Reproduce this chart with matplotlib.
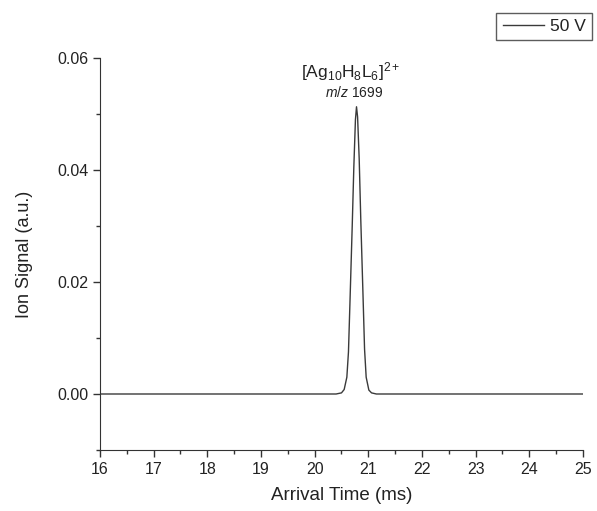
import matplotlib
matplotlib.use("Agg")
import matplotlib.pyplot as plt
from matplotlib.ticker import MultipleLocator, FormatStrFormatter

plt.rcParams["font.family"] = ["Liberation Sans", "DejaVu Sans"]
plt.rcParams["mathtext.fontset"] = "custom"
plt.rcParams["mathtext.rm"] = "Liberation Sans"
plt.rcParams["mathtext.it"] = "Liberation Sans:italic"

# arrival-time trace (ms, a.u.)
time_ms = [16.0, 20.40, 20.50, 20.55, 20.60, 20.63, 20.66, 20.70, 20.73, 20.76,
           20.78, 20.80, 20.83, 20.86, 20.90, 20.93, 20.96, 21.01, 21.06, 21.15, 25.0]
signal = [0.0, 0.0, 0.0002, 0.0008, 0.0030, 0.0075, 0.0170, 0.0300, 0.0405, 0.0490,
          0.0513, 0.0495, 0.0420, 0.0310, 0.0180, 0.0080, 0.0030, 0.0007, 0.0002, 0.0, 0.0]
series_label = "50 V"
peak_time = 20.78

fig = plt.figure(figsize=(5.97, 5.11), dpi=100)
ax = fig.add_axes([0.1675, 0.1194, 0.809, 0.767])
line, = ax.plot(time_ms, signal, color="#3a3a3a", lw=1.0)

ax.set_xlim(16, 25)
ax.set_ylim(-0.01, 0.06)
ax.xaxis.set_major_locator(MultipleLocator(1))
ax.xaxis.set_minor_locator(MultipleLocator(0.5))
ax.yaxis.set_major_locator(MultipleLocator(0.02))
ax.yaxis.set_minor_locator(MultipleLocator(0.01))
ax.yaxis.set_major_formatter(FormatStrFormatter("%.2f"))
ax.tick_params(which="major", direction="out", length=5, width=1,
               labelsize=11.5, color="#333333", labelcolor="#222222")
ax.tick_params(which="minor", direction="out", length=3, width=1, color="#333333")
for s in ["top", "right"]:
    ax.spines[s].set_visible(False)
for s in ["left", "bottom"]:
    ax.spines[s].set_color("#333333")
ax.set_xlabel("Arrival Time (ms)", fontsize=13.5, labelpad=7, color="#222222")
ax.set_ylabel("Ion Signal (a.u.)", fontsize=13, labelpad=17, color="#222222")

ax.text(peak_time - 0.1, 0.0575, r"[Ag$_{10}$H$_8$L$_6$]$^{2+}$", ha="center",
        va="center", fontsize=12.5, color="#222222")
ax.text(peak_time - 0.05, 0.0538, r"$m/z$ 1699", ha="center", va="center",
        fontsize=10, color="#222222")

leg = fig.legend([line], [series_label], loc="upper right",
                 bbox_to_anchor=(0.992, 0.975), fancybox=False, fontsize=12.5,
                 handlelength=2.4, borderpad=0.35, handletextpad=0.35,
                 borderaxespad=0.0)
leg.get_frame().set_edgecolor("#333333")
leg.get_frame().set_linewidth(1.0)
for t in leg.get_texts():
    t.set_color("#222222")

fig.savefig("out.png", dpi=100, facecolor="white")
